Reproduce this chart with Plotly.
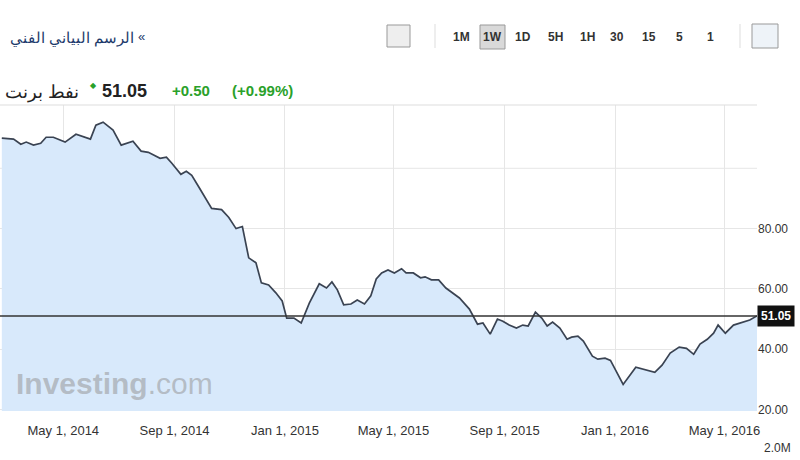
import plotly.graph_objects as go

# weekly Brent closes
dates = [
    "2014-02-22", "2014-03-07", "2014-03-15", "2014-03-21", "2014-03-29", "2014-04-06",
    "2014-04-12", "2014-04-20", "2014-05-03", "2014-05-15", "2014-05-31", "2014-06-06",
    "2014-06-14", "2014-06-25", "2014-07-04", "2014-07-17", "2014-07-26", "2014-08-03",
    "2014-08-16", "2014-08-23", "2014-08-29", "2014-09-08", "2014-09-14", "2014-09-20",
    "2014-09-28", "2014-10-05", "2014-10-12", "2014-10-23", "2014-10-31", "2014-11-08",
    "2014-11-15", "2014-11-22", "2014-11-30", "2014-12-06", "2014-12-14", "2014-12-22",
    "2014-12-29", "2015-01-03", "2015-01-11", "2015-01-19", "2015-01-28", "2015-02-08",
    "2015-02-16", "2015-02-22", "2015-02-28", "2015-03-07", "2015-03-15", "2015-03-22",
    "2015-03-30", "2015-04-06", "2015-04-12", "2015-04-18", "2015-04-25", "2015-05-02",
    "2015-05-10", "2015-05-15", "2015-05-23", "2015-05-31", "2015-06-05", "2015-06-12",
    "2015-06-20", "2015-06-28", "2015-07-13", "2015-07-24", "2015-08-02", "2015-08-08",
    "2015-08-16", "2015-08-24", "2015-08-30", "2015-09-06", "2015-09-14", "2015-09-21",
    "2015-09-27", "2015-10-05", "2015-10-12", "2015-10-18", "2015-10-24", "2015-11-01",
    "2015-11-09", "2015-11-14", "2015-11-21", "2015-11-27", "2015-12-07", "2015-12-13",
    "2015-12-21", "2015-12-27", "2016-01-10", "2016-01-24", "2016-02-03", "2016-02-14",
    "2016-02-22", "2016-03-02", "2016-03-12", "2016-03-20", "2016-03-28", "2016-04-04",
    "2016-04-12", "2016-04-19", "2016-04-24", "2016-05-02", "2016-05-11", "2016-05-18",
    "2016-05-29", "2016-06-06",
]
prices = [
    110.0, 109.7, 108.0, 108.7, 107.7, 108.3,
    110.3, 110.3, 108.7, 111.3, 109.7, 114.3,
    115.3, 112.7, 107.7, 109.0, 105.7, 105.3,
    103.3, 103.7, 101.7, 98.0, 99.0, 97.7,
    93.7, 90.3, 86.7, 86.3, 83.7, 80.0,
    80.7, 70.3, 68.7, 62.0, 61.3, 58.7,
    56.0, 50.3, 50.3, 48.7, 55.3, 61.7,
    60.3, 62.3, 59.7, 54.7, 55.0, 56.3,
    55.0, 57.7, 63.3, 65.3, 66.3, 65.3,
    66.7, 65.3, 65.3, 63.7, 64.0, 63.0,
    63.0, 60.3, 57.0, 53.3, 48.3, 48.7,
    45.0, 50.0, 49.3, 48.0, 47.0, 48.0,
    47.7, 52.3, 50.3, 47.7, 49.0, 47.0,
    43.3, 44.0, 44.3, 42.7, 37.7, 36.7,
    37.0, 36.3, 28.3, 34.0, 33.3, 32.3,
    34.7, 38.7, 40.7, 40.3, 38.3, 41.7,
    43.3, 45.3, 48.0, 45.3, 48.0, 48.7,
    49.7, 51.05,
]
last_price = 51.05
x_ticks = ["2014-05-01", "2014-09-01", "2015-01-01", "2015-05-01", "2015-09-01", "2016-01-01", "2016-05-01"]
x_labels = ["May 1, 2014", "Sep 1, 2014", "Jan 1, 2015", "May 1, 2015", "Sep 1, 2015", "Jan 1, 2016", "May 1, 2016"]
y_ticks = [20, 40, 60, 80]
intervals = ["1M", "1W", "1D", "5H", "1H", "30", "15", "5", "1"]

W = 757  # plot width in px, used to place header items
H = 306  # plot height in px


def px_x(p):
    return p / W


def px_y(p):
    return 1 + (105 - p) / H


fig = go.Figure()
fig.add_trace(go.Scatter(
    x=dates, y=prices, mode="lines", fill="tozeroy",
    line=dict(color="#3a4352", width=1.7), fillcolor="#d8e9fb",
    hoverinfo="x+y",
))

# current price line
fig.add_hline(y=last_price, line=dict(color="#333333", width=1.5))
fig.add_hline(y=100, line=dict(color="#e6e6e6", width=1), layer="below")

font = "Arial, Liberation Sans, sans-serif"
fig.update_layout(
    width=800, height=460,
    margin=dict(l=0, r=43, t=105, b=49, autoexpand=False),
    paper_bgcolor="white", plot_bgcolor="white",
    showlegend=False,
    font=dict(family=font, size=12, color="#333"),
    xaxis=dict(
        type="date", range=["2014-02-20", "2016-06-06"], automargin=False,
        tickvals=x_ticks, ticktext=x_labels, showgrid=True, gridcolor="#e6e6e6",
        ticks="", tickfont=dict(size=13, color="#333"), zeroline=False,
        ticklabelstandoff=10,
    ),
    yaxis=dict(
        side="right", range=[19.5, 121], tickvals=y_ticks, automargin=False,
        ticktext=[f"{v:.2f}" for v in y_ticks], showgrid=True, gridcolor="#e6e6e6",
        tickfont=dict(size=12, color="#333"), zeroline=False, ticks="",
    ),
)

ann = []
# header bar
ann.append(dict(xref="paper", yref="paper", x=px_x(8), y=px_y(37), xanchor="left", yanchor="middle",
                text="الرسم البياني الفني", showarrow=False,
                font=dict(size=15, color="#1d3a6b", family="Noto Sans")))
# the browser mirrors this glyph, so it shows as a right-pointing guillemet
ann.append(dict(xref="paper", yref="paper", x=px_x(136), y=px_y(37), xanchor="left", yanchor="middle",
                text="«", showarrow=False, font=dict(size=13, color="#1d3a6b", family=font)))
ix = [461, 492, 523, 555, 587, 617, 649, 679, 710]
for t, p in zip(intervals, ix):
    ann.append(dict(xref="paper", yref="paper", x=px_x(p), y=px_y(37), xanchor="center", yanchor="middle",
                    text=f"<b>{t}</b>", showarrow=False, font=dict(size=12, color="#333", family=font)))
# title row
ann.append(dict(xref="paper", yref="paper", x=px_x(3), y=px_y(91), xanchor="left", yanchor="middle",
                text="نفط برنت", showarrow=False, font=dict(size=18, color="#222", family="Noto Sans")))
ann.append(dict(xref="paper", yref="paper", x=px_x(88), y=px_y(85), xanchor="left", yanchor="middle",
                text="◆", showarrow=False, font=dict(size=8, color="#2aa12a")))
ann.append(dict(xref="paper", yref="paper", x=px_x(100), y=px_y(91), xanchor="left", yanchor="middle",
                text="<b>51.05</b>", showarrow=False, font=dict(size=18, color="#222", family=font)))
ann.append(dict(xref="paper", yref="paper", x=px_x(170), y=px_y(91), xanchor="left", yanchor="middle",
                text="<b>+0.50</b>", showarrow=False, font=dict(size=15, color="#2aa12a", family=font)))
ann.append(dict(xref="paper", yref="paper", x=px_x(230), y=px_y(91), xanchor="left", yanchor="middle",
                text="<b>(+0.99%)</b>", showarrow=False, font=dict(size=15, color="#2aa12a", family=font)))
# watermark
ann.append(dict(xref="paper", yref="paper", x=px_x(14), y=px_y(383), xanchor="left", yanchor="middle",
                text="<b>Investing</b>.com", showarrow=False,
                font=dict(size=30, color="rgba(150,150,150,0.55)", family=font)))
# price label on axis
ann.append(dict(xref="paper", yref="y", x=1.0, y=last_price, xanchor="left", yanchor="middle",
                text="<b>51.05</b>", showarrow=False, bgcolor="#111", borderpad=3,
                font=dict(size=12, color="white", family=font)))
ann.append(dict(xref="paper", yref="paper", x=px_x(762), y=px_y(448), xanchor="left", yanchor="middle",
                text="2.0M", showarrow=False, font=dict(size=12, color="#333", family=font)))
fig.update_layout(annotations=ann)

shapes = [
    dict(type="line", xref="paper", yref="paper", x0=0, x1=800 / W, y0=px_y(12), y1=px_y(12), line=dict(color="#cccccc", width=1)),
    dict(type="line", xref="paper", yref="paper", x0=0, x1=800 / W, y0=px_y(60), y1=px_y(60), line=dict(color="#cccccc", width=1)),
    dict(type="line", xref="paper", yref="paper", x0=0, x1=1, y0=1, y1=1, line=dict(color="#dddddd", width=1)),
    dict(type="rect", xref="paper", yref="paper", x0=px_x(480), x1=px_x(505), y0=px_y(49), y1=px_y(25),
         line=dict(color="#999", width=1), fillcolor="#d9d9d9", layer="below"),
    dict(type="rect", xref="paper", yref="paper", x0=px_x(387), x1=px_x(410), y0=px_y(47), y1=px_y(25),
         line=dict(color="#999", width=1), fillcolor="#eeeeee"),
    dict(type="line", xref="paper", yref="paper", x0=px_x(435), x1=px_x(435), y0=px_y(48), y1=px_y(24),
         line=dict(color="#dddddd", width=1)),
    dict(type="line", xref="paper", yref="paper", x0=px_x(740), x1=px_x(740), y0=px_y(48), y1=px_y(24),
         line=dict(color="#dddddd", width=1)),
    dict(type="rect", xref="paper", yref="paper", x0=px_x(752), x1=px_x(778), y0=px_y(48), y1=px_y(24),
         line=dict(color="#999", width=1), fillcolor="#eef3f8"),
]
fig.update_layout(shapes=shapes)

# drop the page's default body margin so the chart sits at the window corner
fig.write_html("out.html", config={"displayModeBar": False},
               post_script="document.body.style.margin='0';")
